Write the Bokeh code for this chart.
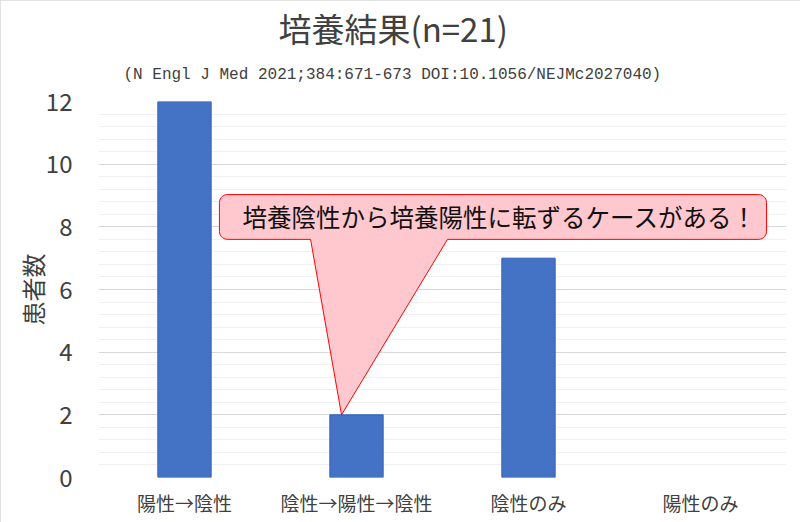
import numpy as np
from bokeh.plotting import figure
from bokeh.models import FixedTicker, Label, ColumnDataSource, Title
from bokeh.embed import file_html
from bokeh.resources import INLINE

categories = ["陽性→陰性", "陰性→陽性→陰性", "陰性のみ", "陽性のみ"]
counts = [12, 2, 7, 0]
y_ticks = [0, 2, 4, 6, 8, 10, 12]
title_text = "培養結果(n=21)"
subtitle_text = "(N Engl J Med 2021;384:671-673 DOI:10.1056/NEJMc2027040)"
callout_text = "培養陰性から培養陽性に転ずるケースがある！"
y_label = "患者数"

JP = "Noto Sans CJK JP"
W, H = 800, 522
FL, FR, FT, FB = 98, 14, 101, 45
FW, FH = W - FL - FR, H - FT - FB

p = figure(x_range=categories, y_range=(0, 12), width=W, height=H,
           output_backend="svg", toolbar_location=None,
           min_border_left=FL, min_border_right=FR,
           min_border_top=FT, min_border_bottom=FB,
           title=title_text)
p.outline_line_color = None
p.background_fill_color = "white"
p.border_fill_color = "white"
p.styles = {"outline": "1px solid #D9D9D9", "outline-offset": "-1px"}

# titles
p.title.text_font = JP
p.title.text_font_size = "33px"
p.title.text_font_style = "normal"
p.title.text_color = "#404040"
p.title.align = "left"
p.title.offset = 180
p.title.standoff = -12
p.add_layout(Title(text=subtitle_text, text_font="Liberation Mono", text_font_size="16px",
                   text_font_style="normal", text_color="#404040",
                   align="left", offset=25, standoff=36), "above")

src = ColumnDataSource(dict(cat=categories, n=counts,
                            edge=[1.0 if v > 0 else 0.0 for v in counts]))
p.vbar(x="cat", top="n", width=0.31, source=src,
       fill_color="#4472C4", line_color="#2F62BE", line_alpha="edge", line_width=1)

# axes
p.yaxis.ticker = FixedTicker(ticks=y_ticks)
p.yaxis.axis_line_color = None
p.yaxis.major_tick_line_color = None
p.yaxis.minor_tick_line_color = None
p.yaxis.major_label_standoff = 20
p.yaxis.major_label_text_font = JP
p.yaxis.major_label_text_font_size = "24px"
p.yaxis.major_label_text_color = "#404040"
p.yaxis.axis_label = y_label
p.yaxis.axis_label_text_font = JP
p.yaxis.axis_label_text_font_size = "24px"
p.yaxis.axis_label_text_font_style = "normal"
p.yaxis.axis_label_text_color = "#404040"
p.yaxis.axis_label_standoff = -7

p.xaxis.axis_line_color = None
p.xaxis.major_tick_line_color = None
p.xaxis.minor_tick_line_color = None
p.xaxis.major_label_standoff = 5
p.xaxis.major_label_text_font = JP
p.xaxis.major_label_text_font_size = "19px"
p.xaxis.major_label_text_color = "#404040"

p.xgrid.grid_line_color = None
minor = [round(v * 0.4, 2) for v in range(31) if round(v * 0.4, 2) not in y_ticks]
p.ygrid.ticker = FixedTicker(ticks=y_ticks, minor_ticks=minor)
p.ygrid.grid_line_color = "#D9D9D9"
p.ygrid.grid_line_width = 1
p.ygrid.minor_grid_line_color = "#F0F0F0"
p.ygrid.minor_grid_line_width = 1

# callout shape (data coords; x is synthetic category coordinate)
pxx = FW / len(categories)
pxy = FH / 12.0
x0, x1, y0, y1 = 0.703, 3.884, 7.60, 9.03
b1, b2 = 1.233, 2.029
tipx, tipy = 1.413, counts[1]
r = 8
rx, ry = r / pxx, r / pxy

def arc(cx, cy, a0, a1, n=8):
    t = np.linspace(np.radians(a0), np.radians(a1), n)
    return list(cx + rx * np.cos(t)), list(cy + ry * np.sin(t))

xs, ys = [], []
xs += [x0 + rx, b1, tipx, b2, x1 - rx]
ys += [y0, y0, tipy, y0, y0]
ax, ay = arc(x1 - rx, y0 + ry, -90, 0); xs += ax; ys += ay
ax, ay = arc(x1 - rx, y1 - ry, 0, 90); xs += ax; ys += ay
ax, ay = arc(x0 + rx, y1 - ry, 90, 180); xs += ax; ys += ay
ax, ay = arc(x0 + rx, y0 + ry, 180, 270); xs += ax; ys += ay
p.patch(xs, ys, fill_color="#FFC7CE", line_color="#FF0000", line_width=1)

p.add_layout(Label(x=(x0 + x1) / 2 + 0.04, y=(y0 + y1) / 2, text=callout_text,
                   text_font=JP, text_font_size="24.5px", text_color="#111111",
                   text_align="center", text_baseline="middle"))

open("out.html", "w").write(file_html(p, INLINE))
